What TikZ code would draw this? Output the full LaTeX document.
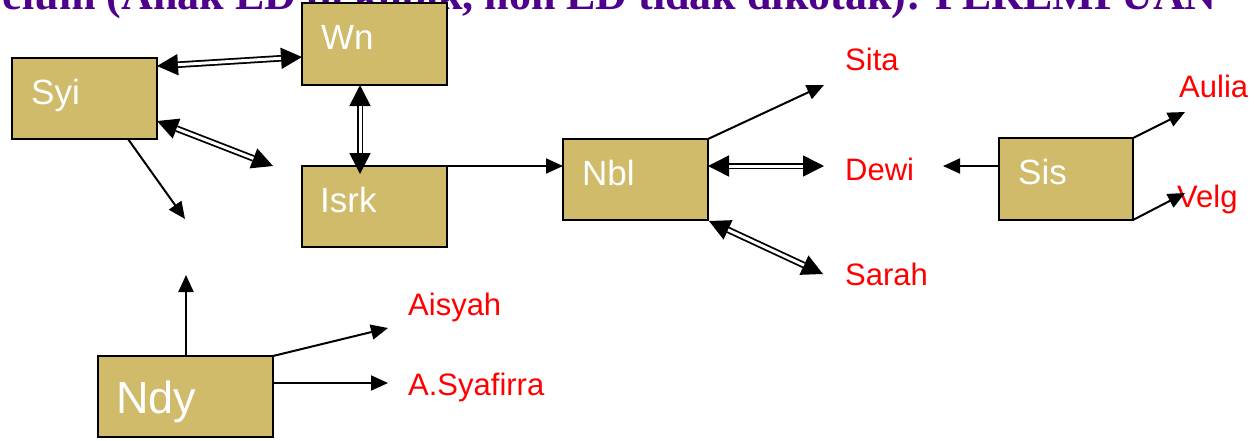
\documentclass[tikz,border=0pt]{standalone}
\usepackage{fontspec}
\setmainfont{Liberation Sans}
\newfontfamily\titlefont{Liberation Serif}
\usetikzlibrary{arrows.meta,calc}
\definecolor{tan}{RGB}{207,187,106}
\definecolor{ttl}{RGB}{78,0,140}
\tikzset{
  box/.style={draw=black, line width=1.8pt, fill=tan, inner sep=0pt, outer sep=0pt, anchor=north west},
  boxtext/.style={text=white, inner sep=0pt, anchor=base west, font=\fontsize{35}{40}\selectfont},
  lbl/.style={text=red, inner sep=0pt, anchor=base west, font=\fontsize{31}{36}\selectfont},
  arr/.style={line width=2pt, -{Triangle[length=17pt,width=15pt]}},
  dbltip/.style={line width=1.5pt, {Triangle[length=21pt,width=21pt]}-{Triangle[length=21pt,width=21pt]}},
  dblline/.style={double, line width=1.8pt, double distance=3pt, shorten <=21pt, shorten >=21pt}
}
\begin{document}
\begin{tikzpicture}[x=1pt,y=-1pt]
\useasboundingbox (0,0) rectangle (1254,440);
% title (top cut off)
\node[anchor=base east, inner sep=0pt, text=ttl, font=\titlefont\bfseries\fontsize{44}{50}\selectfont] (title) at (1217,9) {elum (Anak ED di kotak, non ED tidak dikotak): PEREMPUAN};
% boxes
\node[box, minimum width=145pt, minimum height=81pt] (syi) at (12,58) {};
\node[box, minimum width=145pt, minimum height=82pt] (wn) at (302,3) {};
\node[box, minimum width=145pt, minimum height=81pt] (isrk) at (302,166) {};
\node[box, minimum width=145pt, minimum height=81pt] (nbl) at (563,139) {};
\node[box, minimum width=134pt, minimum height=82pt] (sis) at (999,138) {};
\node[box, minimum width=175pt, minimum height=81pt] (ndy) at (98,356) {};
\node[boxtext] (syit) at (31,104) {Syi};
\node[boxtext] (wnt) at (321,49) {Wn};
\node[boxtext] (isrkt) at (320,212) {Isrk};
\node[boxtext] (nblt) at (582,185) {Nbl};
\node[boxtext] (sist) at (1018,184) {Sis};
\node[boxtext, font=\fontsize{45}{50}\selectfont] (ndyt) at (116,413) {Ndy};
% red labels
\node[lbl] (sita) at (845,70) {Sita};
\node[lbl] (dewi) at (845,180) {Dewi};
\node[lbl] (sarah) at (845,285) {Sarah};
\node[lbl] (aulia) at (1179,97) {Aulia};
\node[lbl] (velg) at (1177,207) {Velg};
\node[lbl] (aisyah) at (408,315) {Aisyah};
\node[lbl] (asyaf) at (408,395) {A.Syafirra};
% free ends and attachment points
\coordinate (c1) at (273,166);
\coordinate (c2) at (185,219);
\coordinate (c3) at (186,275);
\coordinate (sitaE) at (824,85);
\coordinate (dewiE) at (824,166);
\coordinate (sarahE) at (823,274);
\coordinate (dewiW) at (943,166);
\coordinate (auliaE) at (1185,112);
\coordinate (velgE) at (1185,193);
\coordinate (aisE) at (388,328);
\coordinate (asyE) at (388,383);
\coordinate (p1) at ($(syi.north east)+(0,8)$);
\coordinate (p2) at ($(wn.north west)+(0,54)$);
\coordinate (p3) at ($(syi.north east)+(0,63)$);
\coordinate (p4) at ($(wn.south west)+(58,0)$);
\coordinate (p5) at ($(isrk.north west)+(58,8)$);
\coordinate (p6) at ($(nbl.north east)+(0,27)$);
\coordinate (p7) at ($(nbl.south east)+(1,1)$);
% double connectors
\foreach \a/\b in {p1/p2, p3/c1, p4/p5, p6/dewiE, p7/sarahE}{
  \draw[dbltip] (\a) -- (\b);
  \draw[dblline] (\a) -- (\b);
}
% single connectors
\draw[arr] ($(syi.south west)+(116,0)$) -- (c2);
\draw[arr] (isrk.north east) -- (nbl.west |- isrk.north east);
\draw[arr] (nbl.north east) -- (sitaE);
\draw[arr] (sis.west |- dewiW) -- (dewiW);
\draw[arr] (sis.north east) -- (auliaE);
\draw[arr] (sis.south east) -- (velgE);
\draw[arr] ($(ndy.north west)+(88,0)$) -- (c3);
\draw[arr] (ndy.north east) -- (aisE);
\draw[arr] ($(ndy.north east)+(0,27)$) -- (asyE);
\end{tikzpicture}
\end{document}
